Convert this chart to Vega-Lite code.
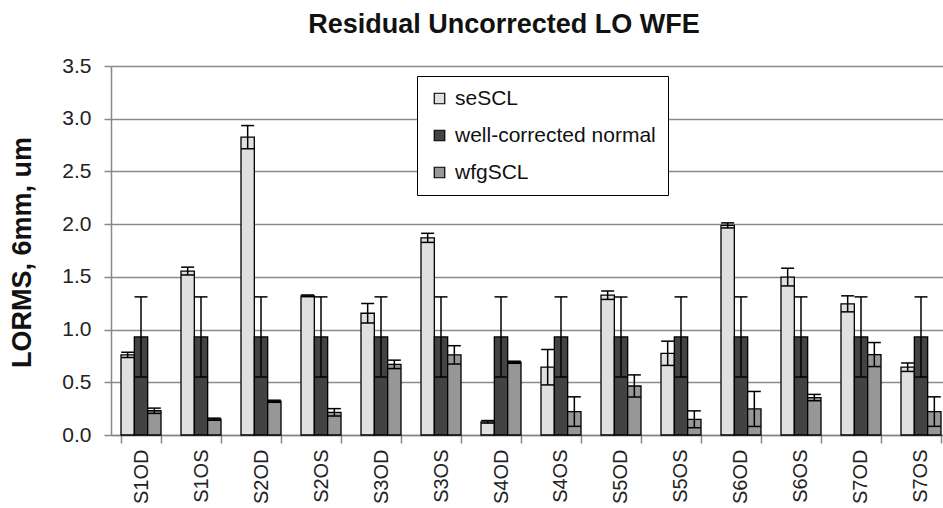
{
  "$schema": "https://vega.github.io/schema/vega-lite/v6.json",
  "autosize": "none",
  "padding": {"left": 111, "top": 66, "right": 0, "bottom": 73},
  "width": 832,
  "height": 369,
  "background": "white",
  "title": {
    "text": "Residual Uncorrected LO WFE",
    "font": "Liberation Sans",
    "fontSize": 27,
    "fontWeight": "bold",
    "color": "#111111",
    "anchor": "middle",
    "dx": -23,
    "baseline": "alphabetic",
    "offset": -5
  },
  "data": {
    "values": [
      {"cat": "S1OD", "s": "seSCL", "v": 0.76, "lo": 0.735, "hi": 0.785},
      {"cat": "S1OD", "s": "well-corrected normal", "v": 0.93, "lo": 0.55, "hi": 1.31},
      {"cat": "S1OD", "s": "wfgSCL", "v": 0.23, "lo": 0.205, "hi": 0.255},
      {"cat": "S1OS", "s": "seSCL", "v": 1.555, "lo": 1.518, "hi": 1.592},
      {"cat": "S1OS", "s": "well-corrected normal", "v": 0.93, "lo": 0.55, "hi": 1.31},
      {"cat": "S1OS", "s": "wfgSCL", "v": 0.15, "lo": 0.14, "hi": 0.16},
      {"cat": "S2OD", "s": "seSCL", "v": 2.825, "lo": 2.715, "hi": 2.935},
      {"cat": "S2OD", "s": "well-corrected normal", "v": 0.93, "lo": 0.55, "hi": 1.31},
      {"cat": "S2OD", "s": "wfgSCL", "v": 0.32, "lo": 0.31, "hi": 0.33},
      {"cat": "S2OS", "s": "seSCL", "v": 1.32, "lo": 1.312, "hi": 1.328},
      {"cat": "S2OS", "s": "well-corrected normal", "v": 0.93, "lo": 0.55, "hi": 1.31},
      {"cat": "S2OS", "s": "wfgSCL", "v": 0.215, "lo": 0.18, "hi": 0.25},
      {"cat": "S3OD", "s": "seSCL", "v": 1.155, "lo": 1.062, "hi": 1.248},
      {"cat": "S3OD", "s": "well-corrected normal", "v": 0.93, "lo": 0.55, "hi": 1.31},
      {"cat": "S3OD", "s": "wfgSCL", "v": 0.67, "lo": 0.63, "hi": 0.71},
      {"cat": "S3OS", "s": "seSCL", "v": 1.87, "lo": 1.827, "hi": 1.913},
      {"cat": "S3OS", "s": "well-corrected normal", "v": 0.93, "lo": 0.55, "hi": 1.31},
      {"cat": "S3OS", "s": "wfgSCL", "v": 0.76, "lo": 0.673, "hi": 0.847},
      {"cat": "S4OD", "s": "seSCL", "v": 0.125, "lo": 0.113, "hi": 0.137},
      {"cat": "S4OD", "s": "well-corrected normal", "v": 0.93, "lo": 0.55, "hi": 1.31},
      {"cat": "S4OD", "s": "wfgSCL", "v": 0.69, "lo": 0.68, "hi": 0.7},
      {"cat": "S4OS", "s": "seSCL", "v": 0.643, "lo": 0.475, "hi": 0.811},
      {"cat": "S4OS", "s": "well-corrected normal", "v": 0.93, "lo": 0.55, "hi": 1.31},
      {"cat": "S4OS", "s": "wfgSCL", "v": 0.222, "lo": 0.082, "hi": 0.362},
      {"cat": "S5OD", "s": "seSCL", "v": 1.326, "lo": 1.286, "hi": 1.366},
      {"cat": "S5OD", "s": "well-corrected normal", "v": 0.93, "lo": 0.55, "hi": 1.31},
      {"cat": "S5OD", "s": "wfgSCL", "v": 0.465, "lo": 0.36, "hi": 0.57},
      {"cat": "S5OS", "s": "seSCL", "v": 0.775, "lo": 0.66, "hi": 0.89},
      {"cat": "S5OS", "s": "well-corrected normal", "v": 0.93, "lo": 0.55, "hi": 1.31},
      {"cat": "S5OS", "s": "wfgSCL", "v": 0.149, "lo": 0.069, "hi": 0.229},
      {"cat": "S6OD", "s": "seSCL", "v": 1.988, "lo": 1.964, "hi": 2.012},
      {"cat": "S6OD", "s": "well-corrected normal", "v": 0.93, "lo": 0.55, "hi": 1.31},
      {"cat": "S6OD", "s": "wfgSCL", "v": 0.247, "lo": 0.081, "hi": 0.413},
      {"cat": "S6OS", "s": "seSCL", "v": 1.498, "lo": 1.414, "hi": 1.582},
      {"cat": "S6OS", "s": "well-corrected normal", "v": 0.93, "lo": 0.55, "hi": 1.31},
      {"cat": "S6OS", "s": "wfgSCL", "v": 0.355, "lo": 0.325, "hi": 0.385},
      {"cat": "S7OD", "s": "seSCL", "v": 1.244, "lo": 1.168, "hi": 1.32},
      {"cat": "S7OD", "s": "well-corrected normal", "v": 0.93, "lo": 0.55, "hi": 1.31},
      {"cat": "S7OD", "s": "wfgSCL", "v": 0.763, "lo": 0.649, "hi": 0.877},
      {"cat": "S7OS", "s": "seSCL", "v": 0.643, "lo": 0.603, "hi": 0.683},
      {"cat": "S7OS", "s": "well-corrected normal", "v": 0.93, "lo": 0.55, "hi": 1.31},
      {"cat": "S7OS", "s": "wfgSCL", "v": 0.222, "lo": 0.082, "hi": 0.362}
    ]
  },
  "encoding": {
    "x": {
      "field": "cat",
      "type": "nominal",
      "sort": null,
      "scale": {"range": [0, 840], "paddingInner": 0.3333, "paddingOuter": 0.1667},
      "axis": {
        "title": null,
        "labelAngle": -90,
        "labelFont": "Liberation Sans",
        "labelFontSize": 20,
        "labelColor": "#222222",
        "labelPadding": 6,
        "tickBand": "extent",
        "tickSize": 8,
        "tickColor": "#888888",
        "tickWidth": 1.5,
        "domainColor": "#888888",
        "domainWidth": 1.5,
        "grid": false
      }
    },
    "xOffset": {
      "field": "s",
      "type": "nominal",
      "scale": {"domain": ["seSCL", "well-corrected normal", "wfgSCL"], "paddingInner": 0, "paddingOuter": 0}
    }
  },
  "layer": [
    {
      "mark": {"type": "bar", "stroke": "black", "strokeWidth": 1.3},
      "encoding": {
        "y": {
          "field": "v",
          "type": "quantitative",
          "scale": {"domain": [0, 3.5], "nice": false, "zero": true},
          "axis": {
            "title": "LORMS, 6mm, um",
            "titleFont": "Liberation Sans",
            "titleFontSize": 27,
            "titleFontWeight": "bold",
            "titleColor": "#111111",
            "titleAngle": -90,
            "titleX": -89,
            "titleY": 186,
            "titleAlign": "center",
            "titleBaseline": "middle",
            "values": [0, 0.5, 1, 1.5, 2, 2.5, 3, 3.5],
            "format": ".1f",
            "labelFont": "Liberation Sans",
            "labelFontSize": 21,
            "labelColor": "#222222",
            "labelPadding": 13,
            "tickSize": 7,
            "tickColor": "#888888",
            "tickWidth": 1.5,
            "domainColor": "#888888",
            "domainWidth": 1.5,
            "grid": true,
            "gridColor": "#8a8a8a",
            "gridWidth": 1.5
          }
        },
        "color": {
          "field": "s",
          "type": "nominal",
          "scale": {
            "domain": ["seSCL", "well-corrected normal", "wfgSCL"],
            "range": ["#e0e0e0", "#434343", "#979797"]
          },
          "legend": {
            "title": null,
            "orient": "none",
            "legendX": 306,
            "legendY": 10,
            "fillColor": "white",
            "strokeColor": "black",
            "padding": 12,
            "labelFont": "Liberation Sans",
            "labelFontSize": 21,
            "labelColor": "#111111",
            "labelOffset": 5,
            "labelLimit": 400,
            "rowPadding": 15,
            "symbolType": "square",
            "symbolSize": 110,
            "symbolStrokeColor": "black",
            "symbolStrokeWidth": 1.2,
            "symbolOpacity": 1
          }
        }
      }
    },
    {
      "mark": {"type": "rule", "color": "black", "strokeWidth": 1.5},
      "encoding": {
        "y": {"field": "lo", "type": "quantitative"},
        "y2": {"field": "hi"}
      }
    },
    {
      "mark": {"type": "tick", "color": "black", "thickness": 1.5, "size": 13},
      "encoding": {
        "y": {"field": "lo", "type": "quantitative"}
      }
    },
    {
      "mark": {"type": "tick", "color": "black", "thickness": 1.5, "size": 13},
      "encoding": {
        "y": {"field": "hi", "type": "quantitative"}
      }
    }
  ],
  "config": {
    "view": {"stroke": null},
    "tick": {"opacity": 1}
  }
}
